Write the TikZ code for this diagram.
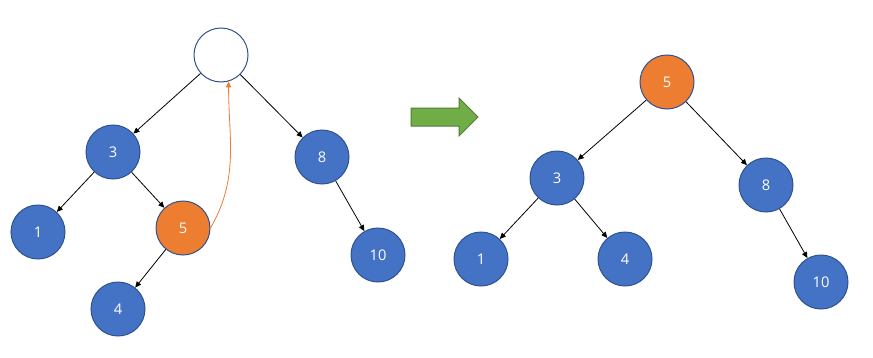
\documentclass[tikz,border=0pt]{standalone}
\usepackage{fontspec}
\setmainfont{Open Sans}
\usetikzlibrary{arrows.meta,positioning}
\definecolor{NodeBlue}{HTML}{4472C4}
\definecolor{EdgeBlue}{HTML}{2F528F}
\definecolor{HotOrange}{HTML}{ED7D31}
\definecolor{StepGreen}{HTML}{70AD47}
\definecolor{StepGreenDark}{HTML}{507E32}

\begin{document}
\begin{tikzpicture}[x=0.75pt, y=-0.75pt,
  vert/.style={circle, draw=EdgeBlue, line width=0.75pt, fill=NodeBlue, minimum size=40.5pt, inner sep=0pt, text=white, font=\fontsize{11}{13}\selectfont},
  hole/.style={vert, fill=white},
  moved/.style={vert, fill=HotOrange},
  arr/.style={-{Triangle[length=4.5pt,width=4pt]}, line width=0.6pt, black},
  lift/.style={-{Triangle[length=4.5pt,width=4pt]}, line width=0.6pt, HotOrange}
]
\useasboundingbox (0,0) rectangle (873,357);
% before
\node[hole] (r) at (221,55) {};
\node[vert] (a) at (113,152) {3};
\node[vert] (b) at (38,232) {1};
\node[moved] (c) at (183,228) {5};
\node[vert] (d) at (118,309) {4};
\node[vert] (e) at (322,157) {8};
\node[vert] (f) at (378,255) {10};
\draw[arr] (r) -- (a);
\draw[arr] (r) -- (e);
\draw[arr] (a) -- (b);
\draw[arr] (a) -- (c);
\draw[arr] (c) -- (d);
\draw[arr] (e) -- (f);
\draw[lift] (c.east) to[out=60, in=-90] (r.-74);
% step
\draw[draw=StepGreenDark, fill=StepGreen, line width=0.75pt]
  (411,108) -- (459,108) -- (459,98) -- (478,117) -- (459,136) -- (459,126) -- (411,126) -- cycle;
% after
\node[moved] (r2) at (667,82) {5};
\node[vert] (a2) at (557,178) {3};
\node[vert] (e2) at (766,185) {8};
\node[vert] (b2) at (481,259) {1};
\node[vert] (d2) at (625,259) {4};
\node[vert] (f2) at (821,282) {10};
\draw[arr] (r2) -- (a2);
\draw[arr] (r2) -- (e2);
\draw[arr] (a2) -- (b2);
\draw[arr] (a2) -- (d2);
\draw[arr] (e2) -- (f2);
\end{tikzpicture}
\end{document}
